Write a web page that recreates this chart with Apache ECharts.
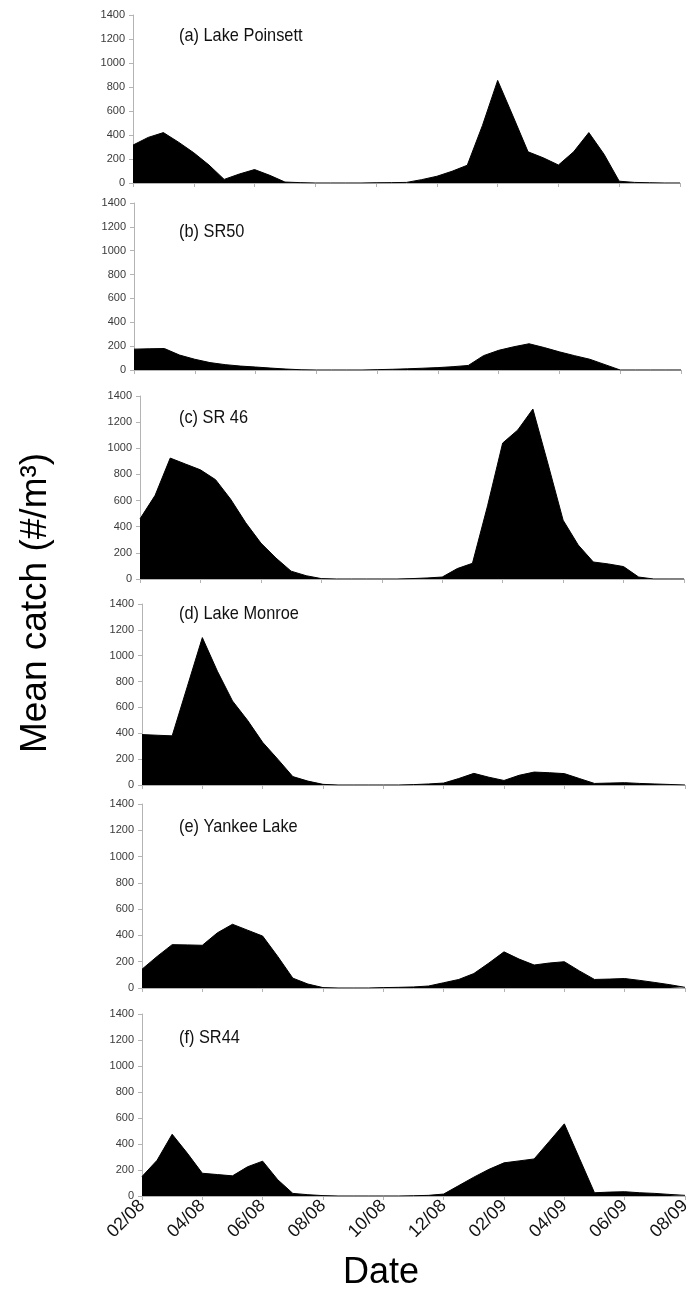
<!DOCTYPE html>
<html>
<head>
<meta charset="utf-8">
<script src="https://cdn.jsdelivr.net/npm/echarts@6/dist/echarts.min.js"></script>
<style>
    html, body {margin: 0; padding: 0; background: #fff;}
    #main {width: 694px; height: 1299px;}
</style>
</head>
<body>
<div id="main"></div>
<script>
// sampling dates, twice a month
const dates = [
    '2008-02-01', '2008-02-15', '2008-03-01', '2008-03-15', '2008-04-01', '2008-04-15',
    '2008-05-01', '2008-05-15', '2008-06-01', '2008-06-15', '2008-07-01', '2008-07-15',
    '2008-08-01', '2008-08-15', '2008-09-01', '2008-09-15', '2008-10-01', '2008-10-15',
    '2008-11-01', '2008-11-15', '2008-12-01', '2008-12-15', '2009-01-01', '2009-01-15',
    '2009-02-01', '2009-02-15', '2009-03-01', '2009-03-15', '2009-04-01', '2009-04-15',
    '2009-05-01', '2009-05-15', '2009-06-01', '2009-06-15', '2009-07-01', '2009-07-15',
    '2009-08-01'
];

const yTicks = [0, 200, 400, 600, 800, 1000, 1200, 1400];

const sites = ['(a) Lake Poinsett', '(b) SR50', '(c) SR 46', '(d) Lake Monroe', '(e) Yankee Lake', '(f) SR44'];

const lakePoinsett = [316, 380, 420, 340, 252, 150, 30, 75, 112, 64, 8, 3, 0, 0, 0, 0, 2, 3, 5, 28, 56, 98, 148, 480, 855, 560, 260, 210, 150, 260, 420, 240, 15, 5, 2, 0, 0];
const sr50 = [175, 178, 180, 125, 90, 62, 45, 33, 25, 16, 8, 2, 0, 0, 0, 0, 3, 6, 10, 15, 20, 28, 38, 120, 165, 195, 220, 188, 152, 120, 90, 45, 0, 0, 0, 0, 0];
const sr46 = [460, 640, 925, 880, 835, 760, 610, 430, 275, 160, 60, 25, 3, 0, 0, 0, 0, 0, 3, 8, 15, 80, 120, 560, 1040, 1140, 1300, 880, 450, 260, 130, 115, 95, 15, 0, 0, 0];
const lakeMonroe = [390, 385, 380, 760, 1140, 880, 650, 500, 330, 200, 65, 30, 5, 0, 0, 0, 0, 0, 3, 8, 15, 50, 90, 60, 35, 75, 100, 95, 88, 50, 12, 15, 18, 12, 8, 4, 0];
const yankeeLake = [143, 240, 330, 328, 325, 420, 485, 440, 395, 240, 75, 30, 3, 0, 0, 0, 3, 5, 8, 15, 40, 65, 110, 190, 275, 220, 175, 190, 200, 130, 65, 68, 72, 58, 42, 25, 5];
const sr44 = [150, 275, 475, 330, 175, 165, 155, 225, 268, 125, 20, 10, 3, 0, 0, 0, 0, 0, 2, 5, 15, 80, 145, 205, 255, 270, 285, 420, 555, 290, 25, 30, 33, 25, 20, 12, 5];

const seriesData = [lakePoinsett, sr50, sr46, lakeMonroe, yankeeLake, sr44];

// panel boxes in px
const panels = [
    {left: 133, right: 14, top: 15, height: 168, titleY: 36},
    {left: 134, right: 13, top: 203, height: 167, titleY: 232},
    {left: 140, right: 10, top: 396, height: 183, titleY: 418},
    {left: 142, right: 9, top: 604, height: 181, titleY: 614},
    {left: 142, right: 9, top: 804, height: 184, titleY: 827},
    {left: 142, right: 9, top: 1014, height: 182, titleY: 1038}
];

const axisGray = '#b4b4b4';
const font = 'Liberation Sans, Arial';

const grids = [], xAxes = [], yAxes = [], series = [], labels = [];
panels.forEach(function (p, i) {
    grids.push({left: p.left, right: p.right, top: p.top, height: p.height});
    const last = i === panels.length - 1;
    xAxes.push({
        type: 'category',
        gridIndex: i,
        data: dates,
        boundaryGap: false,
        axisLine: {lineStyle: {color: axisGray, width: 1}},
        axisTick: {show: true, interval: 3, length: 4, lineStyle: {color: axisGray}},
        axisLabel: {
            show: last,
            interval: 3,
            rotate: 45,
            margin: 7,
            fontFamily: font,
            fontSize: 18,
            color: '#111',
            formatter: function (v) {
                return v.slice(5, 7) + '/' + v.slice(2, 4);
            }
        },
        splitLine: {show: false}
    });
    yAxes.push({
        type: 'value',
        gridIndex: i,
        min: yTicks[0],
        max: yTicks[yTicks.length - 1],
        interval: 200,
        axisLine: {show: true, lineStyle: {color: axisGray, width: 1}},
        axisTick: {show: true, length: 4, lineStyle: {color: axisGray}},
        axisLabel: {
            fontFamily: font, fontSize: 11, color: '#3a3a3a', margin: 8,
            formatter: function (v) { return String(v); }
        },
        splitLine: {show: false}
    });
    series.push({
        type: 'line',
        xAxisIndex: i,
        yAxisIndex: i,
        data: seriesData[i],
        symbol: 'none',
        lineStyle: {color: '#000', width: 1},
        areaStyle: {color: '#000', opacity: 1}
    });
    // panel name
    labels.push({
        type: 'text',
        x: 179,
        y: p.titleY,
        scaleX: 0.86,
        style: {
            text: sites[i],
            fontFamily: font,
            fontSize: 19,
            fill: '#111',
            align: 'left',
            verticalAlign: 'middle'
        }
    });
});

labels.push({
    type: 'text',
    x: 36,
    y: 603,
    rotation: Math.PI / 2,
    style: {
        text: 'Mean catch (#/m³)',
        fontFamily: font,
        fontSize: 37,
        fill: '#000',
        align: 'center',
        verticalAlign: 'middle'
    }
});
labels.push({
    type: 'text',
    x: 381,
    y: 1273,
    style: {
        text: 'Date',
        fontFamily: font,
        fontSize: 36,
        fill: '#000',
        align: 'center',
        verticalAlign: 'middle'
    }
});

const chart = echarts.init(document.getElementById('main'));
chart.setOption({
    animation: false,
    backgroundColor: '#fff',
    grid: grids,
    xAxis: xAxes,
    yAxis: yAxes,
    series: series,
    graphic: labels
});
</script>
</body>
</html>
